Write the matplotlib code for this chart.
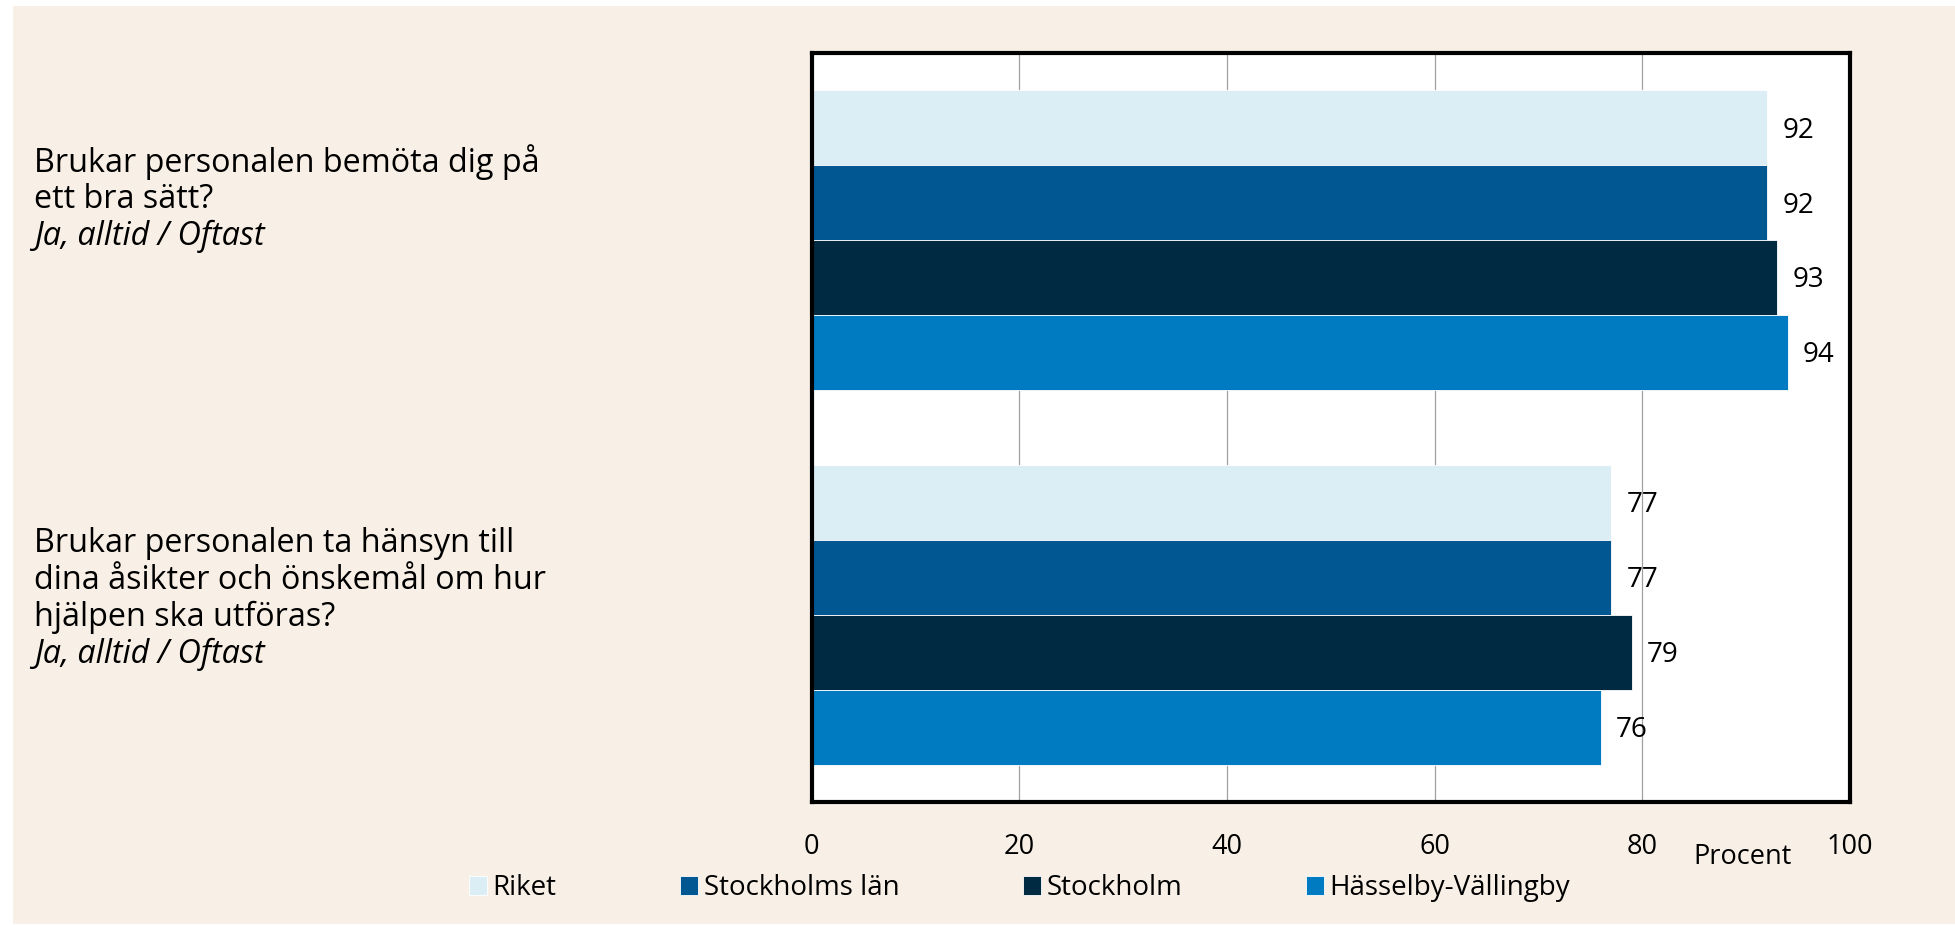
import matplotlib
matplotlib.use('Agg')
import matplotlib.pyplot as plt
from matplotlib.patches import Rectangle
from matplotlib.transforms import blended_transform_factory

plt.rcParams['font.family'] = ['Open Sans', 'DejaVu Sans']

# data
questions = [
    ['Brukar personalen bemöta dig på', 'ett bra sätt?'],
    ['Brukar personalen ta hänsyn till', 'dina åsikter och önskemål om hur', 'hjälpen ska utföras?'],
]
answer = 'Ja, alltid / Oftast'
series = ['Riket', 'Stockholms län', 'Stockholm', 'Hässelby-Vällingby']
colors = ['#dbeef5', '#005791', '#002a42', '#007bc1']
values = {
    'Riket': [92, 77],
    'Stockholms län': [92, 77],
    'Stockholm': [93, 79],
    'Hässelby-Vällingby': [94, 76],
}
xticks = [0, 20, 40, 60, 80, 100]

W, H = 1955, 925
fig = plt.figure(figsize=(W / 100, H / 100), dpi=100)
fig.patch.set_facecolor('white')
fig.patches.append(Rectangle((13 / W, 1 / H), 1 - 13 / W, 918 / H, transform=fig.transFigure,
                             facecolor='#f8f0e6', edgecolor='none', zorder=-10))

ax = fig.add_axes([811.5 / W, 1 - 802 / H, (1850 - 811.5) / W, 749 / H])
ax.set_facecolor('white')

for i, name in enumerate(series):
    ys = [g * 5 + i + 1 for g in range(len(questions))]
    ax.barh(ys, values[name], height=1, color=colors[i], edgecolor='white',
            linewidth=0.6, label=name, zorder=2)
    for y, v in zip(ys, values[name]):
        ax.annotate(str(v), xy=(v, y), xytext=(11, -2), textcoords='offset points',
                    ha='left', va='center', fontsize=20)

ax.set_xlim(0, 100)
ax.set_ylim(10, 0)
ax.set_xticks(xticks)
ax.set_yticks([])
ax.xaxis.grid(True, color='#a0a0a0', linewidth=0.9)
ax.set_axisbelow(True)
ax.tick_params(axis='x', length=0, pad=22.5, labelsize=19.5)
for s in ax.spines.values():
    s.set_linewidth(3)
    s.set_color('black')

# question labels on the left
trans = blended_transform_factory(fig.transFigure, ax.transData)
top_offsets = [56, 51.5]
for g, lines in enumerate(questions):
    center = g * 5 + 2.5
    for k, line in enumerate(lines + [answer]):
        ax.annotate(line, xy=(34 / W, center), xycoords=trans,
                    xytext=(0, top_offsets[g] - k * 26.6), textcoords='offset points',
                    ha='left', va='center', fontsize=23.3,
                    fontstyle='italic' if line == answer else 'normal',
                    annotation_clip=False)

fig.text(1743 / W, 1 - 857 / H, 'Procent', ha='center', va='center', fontsize=19.5)

fig.legend(loc='center left', bbox_to_anchor=(469 / W, 1 - 888 / H), ncol=4, frameon=False,
           fontsize=20, handlelength=0.65, handleheight=0.65, handletextpad=0.2,
           columnspacing=4.45, borderpad=0, borderaxespad=0)

fig.savefig('out.png', dpi=100, facecolor=fig.get_facecolor())
